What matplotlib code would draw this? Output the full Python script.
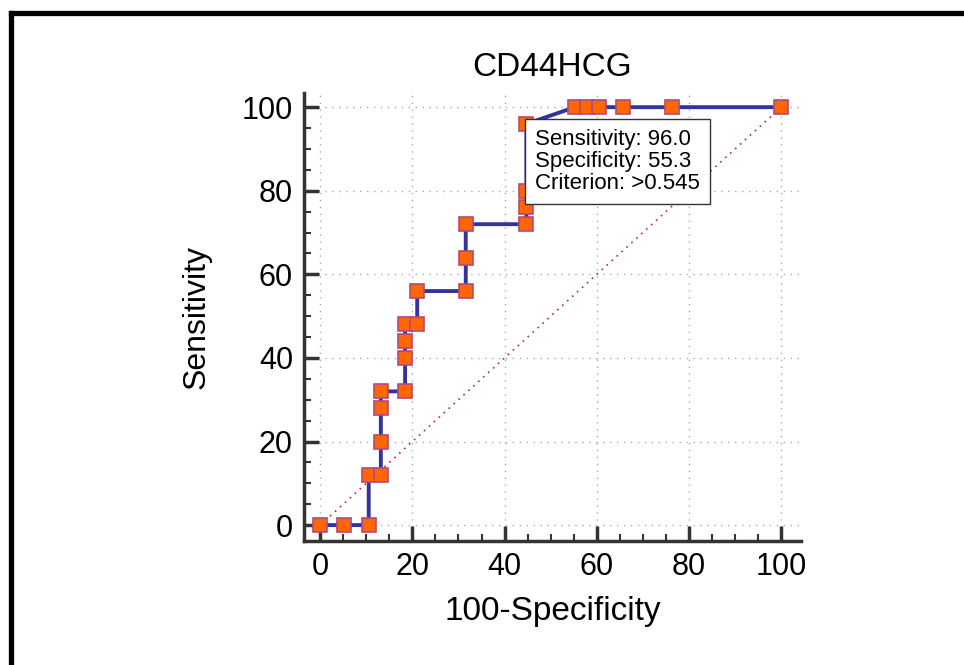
import matplotlib
matplotlib.use("Agg")
import matplotlib.pyplot as plt
from matplotlib.lines import Line2D
from matplotlib.ticker import MultipleLocator

plt.rcParams['font.family'] = ['Liberation Sans', 'DejaVu Sans']

# ROC points (100-Specificity, Sensitivity)
fpr = [0, 5.26, 10.53, 10.53, 13.16, 13.16, 13.16, 13.16, 18.42, 18.42, 18.42, 18.42,
       21.05, 21.05, 31.58, 31.58, 31.58, 44.74, 44.74, 44.74, 44.74,
       55.26, 57.89, 60.53, 65.79, 76.32, 100]
sens = [0, 0, 0, 12, 12, 20, 28, 32, 32, 40, 44, 48,
        48, 56, 56, 64, 72, 72, 76, 80, 96,
        100, 100, 100, 100, 100, 100]
ref_x = [0, 100]
ref_y = [0, 100]
best_x = 44.74
best_y = 96
info = "Sensitivity: 96.0\nSpecificity: 55.3\nCriterion: >0.545"

fig = plt.figure(figsize=(9.64, 6.65), dpi=100)
ax = fig.add_axes([0.3154, 0.1865, 0.5155, 0.6737])

ax.plot(ref_x, ref_y, color='#b03030', linestyle=(0, (1, 3)), lw=1.2, zorder=2)
ax.plot(fpr, sens, color='#333399', lw=2.8, marker='s', markersize=10,
        markerfacecolor='#ff6600', markeredgecolor='#b04a80', markeredgewidth=1.2, zorder=3)

ax.annotate(info, xy=(best_x, best_y), xytext=(6.5, -3.5), textcoords='offset points',
            ha='left', va='top', fontsize=16, linespacing=1.08,
            bbox=dict(boxstyle='square,pad=0.45', fc='white', ec='#333333', lw=1), zorder=4)

ax.set_xlim(-3.5, 104.3)
ax.set_ylim(-3.8, 103.4)
ax.xaxis.set_major_locator(MultipleLocator(20))
ax.xaxis.set_minor_locator(MultipleLocator(5))
ax.yaxis.set_major_locator(MultipleLocator(20))
ax.yaxis.set_minor_locator(MultipleLocator(5))
ax.grid(True, which='major', color='#aaaaaa', linestyle=(0, (1, 4)), lw=1)

for s in ['top', 'right']:
    ax.spines[s].set_visible(False)
for s in ['left', 'bottom']:
    ax.spines[s].set_linewidth(2.5)
    ax.spines[s].set_color('#333333')
ax.tick_params(which='major', direction='in', length=11, width=2.5, color='#333333',
               labelsize=22, pad=8)
ax.tick_params(which='minor', direction='in', length=5, width=1.5, color='#333333')

ax.set_title('CD44HCG', fontsize=24, pad=12)
ax.set_xlabel('100-Specificity', fontsize=24, labelpad=10)
ax.set_ylabel('Sensitivity', fontsize=23, labelpad=22)

# outer frame (top and left only)
fig.add_artist(Line2D([0.0119, 1.0], [0.9797, 0.9797], color='black', lw=3.8))
fig.add_artist(Line2D([0.0119, 0.0119], [0.0, 0.9797], color='black', lw=3.8))

fig.savefig('out.png', dpi=100)
